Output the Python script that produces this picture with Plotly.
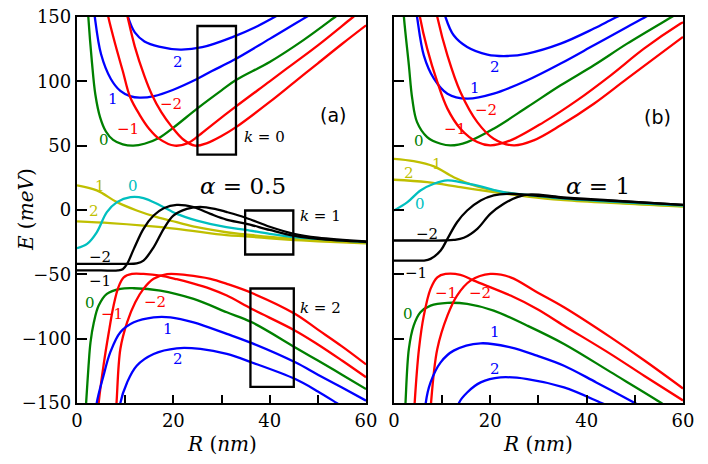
import plotly.graph_objects as go
from plotly.subplots import make_subplots

# ---------------- panel (a): alpha = 0.5 ----------------
# k = 0 band
a_k0_m0_R = [2.0, 2.35, 3.1, 3.8, 4.8, 6.0, 7.5, 9.5, 11.7, 14, 17, 20, 25, 30, 33, 40, 47, 53.2, 56]
a_k0_m0_E = [175, 150, 115, 90, 72, 61, 54.5, 51, 50, 51.5, 56, 64, 79, 93, 101, 115, 132, 149, 157]
a_k0_p1_R = [3.3, 3.7, 5, 7, 9, 11, 13, 16, 20, 24.8, 28, 32.4, 40, 47.6, 50]
a_k0_p1_E = [165, 150, 121, 102, 92.5, 88.5, 87.3, 88.5, 93.5, 101.6, 108, 116.3, 133, 150, 155]
a_k0_p2_R = [10, 10.6, 12, 14, 17, 21.4, 26, 32.4, 37, 41, 43]
a_k0_p2_E = [160, 150, 138, 131, 127, 124.7, 126.5, 134.5, 142, 150, 154]
a_k0_n1_R = [6, 6.5, 8, 9.5, 11, 13, 15, 17, 20.3, 23, 25, 28, 33, 40, 45, 50, 57.3, 59]
a_k0_n1_E = [160, 150, 128, 108, 88, 74, 63, 55.5, 50, 52, 57, 66, 80.5, 100, 114, 128, 150, 155]
a_k0_n2_R = [10, 10.5, 12, 14, 15.5, 17.5, 19.6, 22, 24.5, 27, 30, 33, 40, 45, 50, 55, 60]
a_k0_n2_E = [158, 150, 127, 104, 90, 76, 65, 55, 50, 52, 57.5, 64.4, 84, 99, 114, 129, 143.5]

# k = 1 band
a_k1_p1_R = [0, 4.1, 8.3, 12.4, 16.6, 20.7, 24.9, 31, 35, 40, 45, 50, 60]
a_k1_p1_E = [19.1, 15.2, 6.1, -0.4, -5.6, -9.5, -13.4, -17.3, -19, -21, -22.4, -23.6, -25.5]
a_k1_p2_R = [0, 6.9, 13.8, 20.7, 31, 35, 40, 45, 50, 60]
a_k1_p2_E = [-8.9, -10.2, -12.1, -14.6, -19.5, -20.5, -22, -23.3, -24.3, -26]
a_k1_m0_R = [0, 2.1, 4.1, 6.2, 8.3, 11.1, 13.8, 17.3, 20.7, 24.9, 31, 35, 40, 45, 50, 60]
a_k1_m0_E = [-29.7, -26.3, -17.3, -1.7, 6.1, 10, 9.3, 3.5, -3, -8.2, -13.4, -15.5, -18.5, -21, -22.5, -25]
a_k1_n2_R = [0, 5, 10, 12.4, 13.8, 15.9, 18, 20, 22.8, 25.6, 29, 31, 35, 40, 45, 50, 60]
a_k1_n2_E = [-41.9, -41.9, -41.9, -41.5, -39.3, -29, -14.6, -4.3, 0.9, 2.5, 0.5, -1.5, -6, -13, -18.5, -21.5, -24.5]
a_k1_n1_R = [0, 5, 8.5, 9.5, 10.4, 11.8, 13.8, 15.9, 18, 20.7, 24.2, 27.7, 31, 35, 40, 45, 50, 60]
a_k1_n1_E = [-47, -47, -47, -46, -41.9, -30.2, -14.6, -4.3, 1.4, 4, 2.2, -3, -7.4, -10.5, -15.5, -20, -22.5, -24.8]

# k = 2 band
a_k2_m0_R = [1.6, 1.9, 2.4, 2.8, 3.5, 4.5, 6.2, 9, 11.8, 17.3, 24.2, 31.1, 36.3, 45.3, 50, 55, 60]
a_k2_m0_E = [-165, -149.5, -121, -102.9, -87.3, -74.3, -65.2, -61.3, -60.8, -62.6, -69.1, -79.5, -87.3, -106.8, -117, -128, -139.2]
a_k2_n1_R = [4.2, 4.5, 5.5, 6.6, 7.6, 8.6, 9.7, 11.4, 13.8, 17.3, 20.7, 24.2, 27.7, 31.1, 36.3, 45.3, 50, 55, 60]
a_k2_n1_E = [-165, -150, -121, -95, -74.3, -60, -52.3, -49.7, -49.7, -51, -53.8, -57.2, -61.3, -66.5, -76.9, -93.8, -104.5, -117, -130]
a_k2_n2_R = [7.9, 8.2, 9, 10.4, 12.1, 13.8, 15.9, 18.7, 22.8, 27.7, 31.1, 36.3, 45.3, 50, 55, 60]
a_k2_n2_E = [-165, -150, -108, -87.3, -71.7, -61.3, -53.5, -49.8, -50.6, -53.5, -57.4, -64.5, -80.8, -93, -106, -120]
a_k2_p1_R = [3.8, 4.1, 5.5, 6.9, 9, 11.8, 15.9, 19.4, 24.2, 31.1, 36.3, 45.3, 50, 55, 60]
a_k2_p1_E = [-165, -150, -128.8, -110.7, -95, -87.3, -83.4, -83.4, -87.3, -96.3, -103.5, -118.4, -128, -138, -148.2]
a_k2_p2_R = [8.7, 9, 10.4, 12.4, 15.9, 20.7, 25.6, 31.1, 36.3, 45.3, 50, 53.9, 56]
a_k2_p2_E = [-165, -150, -134, -121, -111.9, -107.5, -108, -111.9, -118.5, -131.4, -141, -150, -155]

# ---------------- panel (b): alpha = 1 ----------------
b_k0_m0_R = [1.8, 2.1, 3.1, 3.8, 4.8, 6.9, 9.7, 11.8, 15.2, 20.7, 27.7, 34.6, 41.5, 48.4, 57.1, 59]
b_k0_m0_E = [165, 148.8, 112.5, 86.5, 68.3, 56.7, 51.5, 50.2, 52.8, 63.2, 80, 96.9, 112.5, 129.3, 148.8, 153]
b_k0_p1_R = [4.4, 4.8, 6.2, 8.3, 11.1, 15.2, 20.7, 27.7, 34.6, 41.5, 48.4, 52.2, 54]
b_k0_p1_E = [160, 150, 120.2, 102.1, 90.4, 86.5, 90.4, 100.8, 113.8, 128, 142.3, 150, 154]
b_k0_p2_R = [10.2, 10.7, 12.4, 15.2, 19.4, 23.5, 27.7, 34.6, 41.5, 45.6, 48]
b_k0_p2_E = [158, 150, 135.8, 126.7, 120.8, 119.7, 121.6, 129.3, 141, 148.8, 153]
b_k0_n1_R = [5, 5.4, 6.9, 9, 11.1, 13.8, 17.3, 20, 24.2, 31.1, 38, 45, 51.9, 59.5, 60]
b_k0_n1_E = [160, 150, 125.4, 99.5, 78.8, 63.2, 52.8, 50.2, 54.1, 68.3, 85.2, 104.7, 125.4, 144.9, 146]
b_k0_n2_R = [8.6, 9, 11.1, 13.8, 17.3, 20.7, 24.9, 29, 34.6, 41.5, 48.4, 60]
b_k0_n2_E = [158, 150, 120.2, 91.7, 68.3, 55.4, 50.2, 54.1, 65.8, 82.6, 102.1, 134.5]

b_k1_p1_R = [0, 4.1, 8.3, 12.4, 16.6, 20.7, 24.9, 34.6, 45, 60]
b_k1_p1_E = [39.8, 38, 33.9, 25.5, 19.1, 15.2, 12.6, 8.7, 6, 3]
b_k1_p2_R = [0, 6.9, 13.8, 20.7, 27.7, 34.6, 45, 60]
b_k1_p2_E = [23.5, 21.6, 17.7, 13.9, 10.5, 7.9, 5.5, 2.7]
b_k1_m0_R = [0, 2.8, 5.5, 8.3, 11.1, 13.8, 18, 22.8, 27.7, 34.6, 45, 60]
b_k1_m0_E = [-0.4, 6.1, 15.2, 20.4, 23, 21.6, 18.3, 13.9, 11.8, 9, 6.5, 3.5]
b_k1_n2_R = [0, 5, 10.4, 12.4, 14.5, 17.3, 20, 22.8, 25.6, 28.4, 34.6, 45, 60]
b_k1_n2_E = [-23.7, -23.7, -23.7, -23.3, -21.6, -14.6, -3, 4.8, 10, 12.1, 10, 7.5, 4]
b_k1_n1_R = [0, 4, 6.2, 7.6, 9.7, 11.1, 13.1, 15.2, 18, 20.7, 23.5, 27.7, 34.6, 45, 60]
b_k1_n1_E = [-39.3, -39.3, -39.3, -38, -31.5, -22.4, -9.5, -0.4, 7.4, 11.3, 12.6, 11.8, 9.5, 7.2, 4]

b_k2_m0_R = [2.2, 2.4, 3.1, 4.1, 5.5, 7.6, 11.1, 15.2, 20.7, 27.7, 35.3, 45, 55.5, 57]
b_k2_m0_E = [-165, -150, -108, -89.9, -79.5, -74.3, -72.2, -73, -78.2, -89.9, -104.1, -126, -150, -154]
b_k2_n1_R = [4.1, 4.3, 5.2, 6.2, 7.6, 9, 10.7, 13.8, 16.6, 24.2, 29.7, 35.3, 45, 52, 60]
b_k2_n1_E = [-165, -150, -108, -82.1, -61.3, -52.3, -49.7, -50.4, -54.9, -66.5, -76.9, -89.9, -112, -129, -148]
b_k2_n2_R = [7.5, 7.7, 9, 11.1, 13.1, 15.9, 20, 24.2, 29.7, 35.3, 45, 52, 60]
b_k2_n2_E = [-165, -150, -108, -82.1, -66.5, -54.9, -49.7, -52.3, -63.9, -75.6, -99, -117, -138.7]
b_k2_p1_R = [6.4, 6.6, 7.6, 9.7, 12.4, 18, 24.2, 29.7, 35.3, 42, 50, 52]
b_k2_p1_E = [-165, -150, -134, -118.4, -109.3, -103.6, -106.8, -113.2, -121, -134, -150, -154]
b_k2_p2_R = [13.2, 13.5, 15.2, 18, 22.1, 27.7, 35.3, 43.1, 45]
b_k2_p2_E = [-160, -150, -141.8, -134, -130.1, -131.4, -137.9, -150, -153]

# highlighted windows in panel (a): [R0, R1, E0, E1]
box_k0 = [25, 33, 43, 143]
box_k1 = [34.9, 44.9, -34.6, -0.4]
box_k2 = [36, 45, -137.4, -61]

x_ticks = [0, 10, 20, 30, 40, 50, 60]
x_ticktext = ["0", "", "20", "", "40", "", "60"]
y_ticks = [-150, -100, -50, 0, 50, 100, 150]
y_ticktext = ["\u2212150", "\u2212100", "\u221250", "0", "50", "100", "150"]

GREEN = "#008000"
BLUE = "#0000ff"
RED = "#ff0000"
YELLOW = "#bfbf00"
CYAN = "#00bfbf"
BLACK = "#000000"
SERIF = "DejaVu Serif"
SANS = "DejaVu Sans"

curves = [
    (1, a_k0_m0_R, a_k0_m0_E, GREEN), (1, a_k0_p1_R, a_k0_p1_E, BLUE),
    (1, a_k0_p2_R, a_k0_p2_E, BLUE), (1, a_k0_n1_R, a_k0_n1_E, RED),
    (1, a_k0_n2_R, a_k0_n2_E, RED),
    (1, a_k1_p1_R, a_k1_p1_E, YELLOW), (1, a_k1_p2_R, a_k1_p2_E, YELLOW),
    (1, a_k1_m0_R, a_k1_m0_E, CYAN), (1, a_k1_n2_R, a_k1_n2_E, BLACK),
    (1, a_k1_n1_R, a_k1_n1_E, BLACK),
    (1, a_k2_m0_R, a_k2_m0_E, GREEN), (1, a_k2_n1_R, a_k2_n1_E, RED),
    (1, a_k2_n2_R, a_k2_n2_E, RED), (1, a_k2_p1_R, a_k2_p1_E, BLUE),
    (1, a_k2_p2_R, a_k2_p2_E, BLUE),
    (2, b_k0_m0_R, b_k0_m0_E, GREEN), (2, b_k0_p1_R, b_k0_p1_E, BLUE),
    (2, b_k0_p2_R, b_k0_p2_E, BLUE), (2, b_k0_n1_R, b_k0_n1_E, RED),
    (2, b_k0_n2_R, b_k0_n2_E, RED),
    (2, b_k1_p1_R, b_k1_p1_E, YELLOW), (2, b_k1_p2_R, b_k1_p2_E, YELLOW),
    (2, b_k1_m0_R, b_k1_m0_E, CYAN), (2, b_k1_n2_R, b_k1_n2_E, BLACK),
    (2, b_k1_n1_R, b_k1_n1_E, BLACK),
    (2, b_k2_m0_R, b_k2_m0_E, GREEN), (2, b_k2_n1_R, b_k2_n1_E, RED),
    (2, b_k2_n2_R, b_k2_n2_E, RED), (2, b_k2_p1_R, b_k2_p1_E, BLUE),
    (2, b_k2_p2_R, b_k2_p2_E, BLUE),
]

fig = make_subplots(rows=1, cols=2, horizontal_spacing=0.046, shared_yaxes=False)

for col, r, e, color in curves:
    fig.add_trace(
        go.Scatter(x=r, y=e, mode="lines",
                   line={"color": color, "width": 2.3, "shape": "spline", "smoothing": 1.0},
                   hoverinfo="skip", showlegend=False),
        row=1, col=col
    )

# boxes in panel (a)
for b in (box_k0, box_k1, box_k2):
    fig.add_shape(type="rect", x0=b[0], x1=b[1], y0=b[2], y1=b[3],
                  line={"color": "black", "width": 2.3}, xref="x", yref="y")

# curve labels: (text, R, E, color, panel)
labels = [
    ("2", 20.9, 115, BLUE, 1), ("1", 7.5, 86, BLUE, 1), ("\u22122", 19.6, 82.6, RED, 1),
    ("\u22121", 10.6, 63.2, RED, 1), ("0", 5.6, 54.6, GREEN, 1),
    ("1", 4.8, 19, YELLOW, 1), ("0", 11.7, 19, CYAN, 1), ("2", 3.6, -0.4, YELLOW, 1),
    ("\u22122", 4.8, -36.2, BLACK, 1), ("\u22121", 4.8, -55.4, BLACK, 1),
    ("0", 2.7, -72.5, GREEN, 1), ("\u22121", 7.2, -80.8, RED, 1), ("\u22122", 16.2, -71.7, RED, 1),
    ("1", 18.9, -92.5, BLUE, 1), ("2", 20.9, -115.8, BLUE, 1),
    ("2", 21, 111, BLUE, 2), ("1", 16.8, 95, BLUE, 2), ("\u22122", 19.2, 77.4, RED, 2),
    ("\u22121", 12.7, 63.2, RED, 2), ("0", 5.3, 54, GREEN, 2),
    ("1", 8.9, 36, YELLOW, 2), ("2", 3.2, 28.6, YELLOW, 2), ("0", 5.4, 4.3, CYAN, 2),
    ("\u22122", 6.8, -19, BLACK, 2), ("\u22121", 4.6, -49, BLACK, 2),
    ("\u22121", 10.9, -64.7, RED, 2), ("\u22122", 17.8, -64.7, RED, 2), ("0", 3.0, -80.8, GREEN, 2),
    ("1", 21, -95, BLUE, 2), ("2", 21, -123.6, BLUE, 2),
]
for text, r, e, color, col in labels:
    xr = "x" if col == 1 else "x2"
    yr = "y" if col == 1 else "y2"
    fig.add_annotation(x=r, y=e, xref=xr, yref=yr, text=text, showarrow=False,
                       font={"family": SERIF, "size": 15, "color": color})

# k labels, panel letters, alpha labels
for text, r, e in (("<i>k</i> = 0", 34.3, 56.4), ("<i>k</i> = 1", 45.9, -5), ("<i>k</i> = 2", 45.9, -76.4)):
    fig.add_annotation(x=r, y=e, xref="x", yref="y", text=text, showarrow=False,
                       xanchor="left", font={"family": SERIF, "size": 15, "color": "black"})
fig.add_annotation(x=53.1, y=73.5, xref="x", yref="y", text="(a)", showarrow=False,
                   font={"family": SANS, "size": 19, "color": "black"})
fig.add_annotation(x=54.8, y=72, xref="x2", yref="y2", text="(b)", showarrow=False,
                   font={"family": SANS, "size": 19, "color": "black"})
fig.add_annotation(x=34.4, y=19, xref="x", yref="y", text="<i>\u03b1</i> = 0.5", showarrow=False,
                   font={"family": SERIF, "size": 23, "color": "black"})
fig.add_annotation(x=42.3, y=19, xref="x2", yref="y2", text="<i>\u03b1</i> = 1", showarrow=False,
                   font={"family": SERIF, "size": 23, "color": "black"})

# axis titles
fig.add_annotation(x=-0.084, y=0.5, xref="paper", yref="paper", text="<i>E</i> (<i>meV</i>)",
                   showarrow=False, textangle=-90, xanchor="center", yanchor="middle",
                   font={"family": SERIF, "size": 20, "color": "black"})
for xc in (0.2385, 0.7615):
    fig.add_annotation(x=xc, y=-0.106, xref="paper", yref="paper", text="<i>R</i> (<i>nm</i>)",
                       showarrow=False, xanchor="center", yanchor="middle",
                       font={"family": SERIF, "size": 20, "color": "black"})

axis_style = dict(showline=True, linecolor="black", linewidth=2.3, mirror=True,
                  ticks="inside", tickcolor="black", tickwidth=1.5, showgrid=False,
                  zeroline=False, automargin=False, ticklabeloverflow="allow",
                  tickfont={"family": SERIF, "size": 18, "color": "black"})

fig.update_xaxes(range=[0, 60], tickvals=x_ticks, ticktext=x_ticktext, ticklen=8, **axis_style)
fig.update_yaxes(range=[-150, 150], tickvals=y_ticks, ticktext=y_ticktext, ticklen=10, **axis_style)
fig.update_yaxes(showticklabels=False, row=1, col=2)
fig.update_xaxes(domain=[0, 0.477], row=1, col=1)
fig.update_xaxes(domain=[0.523, 1], row=1, col=2)

fig.update_layout(
    width=708, height=464,
    margin={"l": 77, "r": 25, "t": 17, "b": 61, "autoexpand": False},
    plot_bgcolor="white", paper_bgcolor="white",
    showlegend=False,
)

# drop the default 8 px body margin so the figure fills the window exactly
fig.write_html("out.html", config={"displayModeBar": False},
               post_script="document.body.style.margin = '0';")
